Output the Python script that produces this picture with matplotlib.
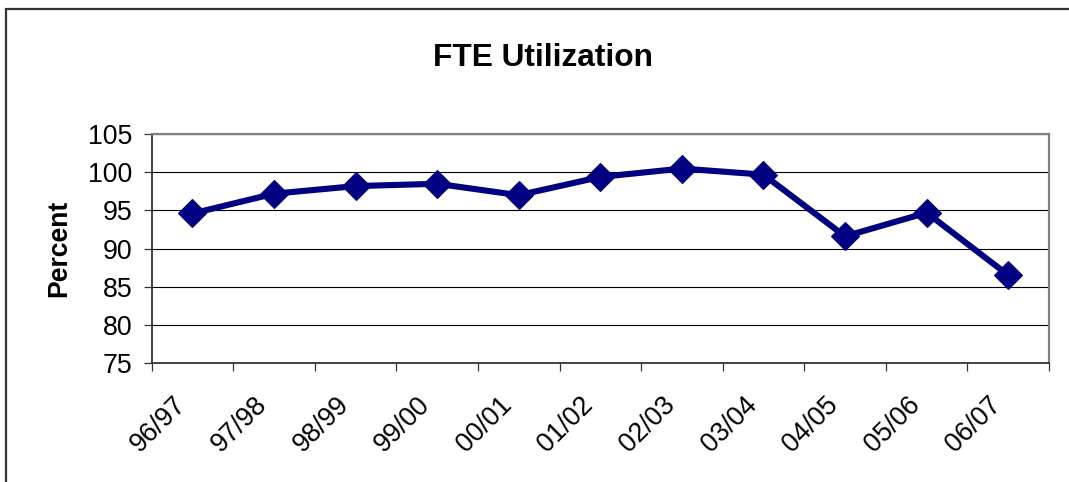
import matplotlib.pyplot as plt
import matplotlib.transforms as mtransforms
from matplotlib.patches import Rectangle
import numpy as np

plt.rcParams['font.family'] = ['Liberation Sans', 'DejaVu Sans']

years = ['96/97', '97/98', '98/99', '99/00', '00/01', '01/02',
         '02/03', '03/04', '04/05', '05/06', '06/07']
percent = [94.6, 97.2, 98.2, 98.5, 97.0, 99.4, 100.5, 99.7, 91.6, 94.7, 86.5]

W, H = 1069, 482
fig = plt.figure(figsize=(W / 100, H / 100), dpi=100)
fig.patch.set_facecolor('white')

# outer chart border (clipped by right/bottom edges like the original)
fig.add_artist(Rectangle((5.5 / W, -0.1), 1.2, 1 - 8.8 / H + 0.1,
                         transform=fig.transFigure, fill=False,
                         edgecolor='#333333', linewidth=1.6))

ax = fig.add_axes([151.7 / W, 1 - 362.7 / H, (1049 - 151.7) / W, (362.7 - 134.3) / H])
x = np.arange(len(years))
ax.plot(x, percent, color='#000080', linewidth=4.4, marker='D',
        markersize=14, markeredgecolor='#000080', markeredgewidth=0.8,
        zorder=3, clip_on=False)

ax.set_ylim(75, 105)
ax.set_yticks(np.arange(75, 106, 5))
ax.set_xlim(-0.5, len(years) - 0.5)
ax.yaxis.grid(True, color='black', linewidth=0.8)
ax.set_axisbelow(True)

# category labels at centres, tick marks at boundaries
ax.set_xticks(x)
ax.set_xticklabels(years)
ax.set_xticks(np.arange(-0.5, len(years)), minor=True)
ax.tick_params(axis='x', which='major', length=0, pad=21, labelsize=19.3)
ax.tick_params(axis='x', which='minor', length=6, width=0.9, color='#333333')
ax.tick_params(axis='y', length=6, width=0.9, pad=8, labelsize=19.3, color='#333333')

offset = mtransforms.ScaledTranslation(-20 / 100, 0, fig.dpi_scale_trans)
for lbl in ax.get_xticklabels():
    lbl.set_rotation(45)
    lbl.set_ha('right')
    lbl.set_va('top')
    lbl.set_rotation_mode('anchor')
    lbl.set_transform(lbl.get_transform() + offset)

for side in ['left', 'bottom']:
    ax.spines[side].set_color('#333333')
    ax.spines[side].set_linewidth(1.3)
for side in ['top', 'right']:
    ax.spines[side].set_color('#808080')
    ax.spines[side].set_linewidth(1.6)

fig.text(543 / W, 1 - 66 / H, 'FTE Utilization', ha='center', va='baseline',
         fontsize=22.8, fontweight='bold')
fig.text(59 / W, 1 - 248 / H, 'Percent', ha='center', va='center',
         rotation=90, fontsize=19.2, fontweight='bold')

fig.savefig('out.png', dpi=100)
